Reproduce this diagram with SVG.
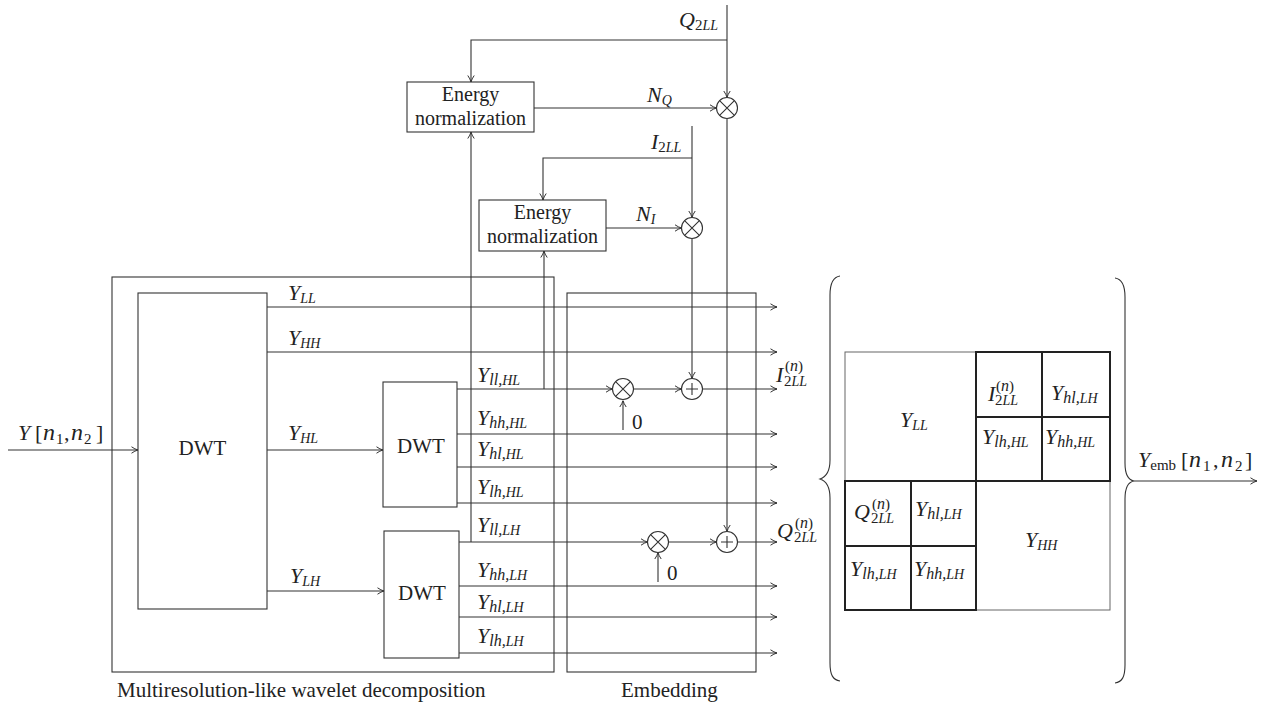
<svg xmlns="http://www.w3.org/2000/svg" width="1262" height="705" viewBox="0 0 1262 705">
<defs>
<marker id="arr" viewBox="0 0 8 8" refX="8" refY="4" markerWidth="8" markerHeight="8" markerUnits="userSpaceOnUse" orient="auto">
<path d="M1.5,0.8 Q5,3.2 8,4 Q5,4.8 1.5,7.2" fill="none" stroke="#333" stroke-width="1"/>
</marker>
</defs>
<style>
.box{fill:none;stroke:#333;stroke-width:1.1}
.ln{fill:none;stroke:#333;stroke-width:1.1}
.ar{fill:none;stroke:#333;stroke-width:1.1;marker-end:url(#arr)}
.op{fill:#fff;stroke:#333;stroke-width:1.1}
.thin{fill:none;stroke:#666;stroke-width:1}
.thick{fill:none;stroke:#222;stroke-width:2}
.t{font-family:"Liberation Serif","DejaVu Serif",serif;font-size:21px;fill:#222}
.e{font-size:20px}
.m{font-style:italic;font-size:22px}
.u{font-style:normal}
.s{font-size:16px}
.c{font-size:14px}
.d{font-size:15px;font-style:normal}
.n{font-size:24px}
.mid{text-anchor:middle}
</style>

<g id="connectors">
<path class="ar" d="M8,450 H138"/>
<path class="ar" d="M267,307 H777"/>
<path class="ar" d="M267,352 H777"/>
<path class="ar" d="M267,450 H383"/>
<path class="ar" d="M267,591 H384"/>
<path class="ar" d="M457,389 H612.5"/>
<path class="ar" d="M633.5,389 H681.5"/>
<path class="ar" d="M702.5,389 H777"/>
<path class="ar" d="M623,430 V400.5"/>
<path class="ar" d="M457,434 H777"/>
<path class="ar" d="M457,467 H777"/>
<path class="ar" d="M457,503 H777"/>
<path class="ar" d="M459,542 H647.5"/>
<path class="ar" d="M668.5,542 H716.5"/>
<path class="ar" d="M737.5,542 H777"/>
<path class="ar" d="M658,582 V552.5"/>
<path class="ar" d="M459,586 H777"/>
<path class="ar" d="M459,617 H777"/>
<path class="ar" d="M459,653 H777"/>
<path class="ar" d="M471,542 V132"/>
<path class="ar" d="M544,389 V251"/>
<path class="ar" d="M727,5 V97.5"/>
<path class="ar" d="M727,40 H471 V82"/>
<path class="ar" d="M534,108 H716.5"/>
<path class="ar" d="M727,118.5 V531.5"/>
<path class="ar" d="M692,126 V217.5"/>
<path class="ar" d="M692,158 H543 V200"/>
<path class="ar" d="M606,228 H681.5"/>
<path class="ar" d="M692,238.5 V378.5"/>
<path class="ar" d="M1134,481 H1257"/>
</g>

<g id="edge-labels">
<text class="t m" x="18" y="440">Y<tspan class="u" x="35">[</tspan><tspan class="n" x="43">n</tspan><tspan class="d" x="56" dy="4">1</tspan><tspan class="u" x="64" dy="-4">,</tspan><tspan class="n" x="71">n</tspan><tspan class="d" x="84" dy="4">2</tspan><tspan class="u" x="96" dy="-4">]</tspan></text>
<text class="t m" x="288" y="300">Y<tspan class="c" dy="3">LL</tspan></text>
<text class="t m" x="288" y="345">Y<tspan class="c" dy="3">HH</tspan></text>
<text class="t m" x="288" y="440">Y<tspan class="c" dy="3">HL</tspan></text>
<text class="t m" x="290" y="583">Y<tspan class="c" dy="3">LH</tspan></text>
<text class="t m" x="477" y="382">Y<tspan class="s" dy="3">ll,</tspan><tspan class="c">HL</tspan></text>
<text class="t m" x="477" y="425">Y<tspan class="s" dy="3">hh,</tspan><tspan class="c">HL</tspan></text>
<text class="t m" x="477" y="456">Y<tspan class="s" dy="3">hl,</tspan><tspan class="c">HL</tspan></text>
<text class="t m" x="477" y="494">Y<tspan class="s" dy="3">lh,</tspan><tspan class="c">HL</tspan></text>
<text class="t m" x="477" y="532">Y<tspan class="s" dy="3">ll,</tspan><tspan class="c">LH</tspan></text>
<text class="t m" x="477" y="577">Y<tspan class="s" dy="3">hh,</tspan><tspan class="c">LH</tspan></text>
<text class="t m" x="477" y="609">Y<tspan class="s" dy="3">hl,</tspan><tspan class="c">LH</tspan></text>
<text class="t m" x="477" y="643">Y<tspan class="s" dy="3">lh,</tspan><tspan class="c">LH</tspan></text>
<text class="t" x="632" y="429">0</text>
<text class="t" x="667" y="580">0</text>
<text class="t m" x="679" y="27">Q<tspan class="d" dy="3">2</tspan><tspan class="c">LL</tspan></text>
<text class="t m" x="651" y="149">I<tspan class="d" dy="3">2</tspan><tspan class="c">LL</tspan></text>
<text class="t m" x="647" y="102">N<tspan class="c" dy="3">Q</tspan></text>
<text class="t m" x="636" y="221">N<tspan class="c" dy="3">I</tspan></text>
<text class="t m" x="776" y="382">I<tspan class="d" x="785" dy="-11">(</tspan><tspan class="s">n</tspan><tspan class="d">)</tspan><tspan class="d" x="784" dy="15">2</tspan><tspan class="c">LL</tspan></text>
<text class="t m" x="777" y="538">Q<tspan class="d" x="795" dy="-10">(</tspan><tspan class="s">n</tspan><tspan class="d">)</tspan><tspan class="d" x="794" dy="14">2</tspan><tspan class="c">LL</tspan></text>
<text class="t m" x="1138" y="467">Y<tspan class="d" dy="3">emb</tspan><tspan class="u" x="1181" dy="-3">[</tspan><tspan class="n" x="1189">n</tspan><tspan class="d" x="1203" dy="4">1</tspan><tspan class="u" x="1213" dy="-4">,</tspan><tspan class="n" x="1221">n</tspan><tspan class="d" x="1235" dy="4">2</tspan><tspan class="u" x="1245" dy="-4">]</tspan></text>
</g>

<g id="multires-box">
<rect class="box" x="112" y="277" width="442" height="395"/>
<text class="t" x="117" y="697">Multiresolution-like wavelet decomposition</text>
</g>

<g id="embedding-box">
<rect class="box" x="567" y="293" width="189" height="379"/>
<text class="t" x="621" y="697">Embedding</text>
</g>

<g id="dwt1">
<rect class="box" x="138" y="293" width="129" height="316"/>
<text class="t mid" x="202.5" y="455">DWT</text>
</g>

<g id="dwt2">
<rect class="box" x="383" y="382" width="74" height="125"/>
<text class="t mid" x="421" y="453">DWT</text>
</g>

<g id="dwt3">
<rect class="box" x="384" y="531" width="75" height="127"/>
<text class="t mid" x="422" y="600">DWT</text>
</g>

<g id="energy-norm-q">
<rect class="box" x="407" y="82" width="127" height="50"/>
<text class="t e mid" x="470.5" y="101">Energy</text>
<text class="t e mid" x="470.5" y="125">normalization</text>
</g>

<g id="energy-norm-i">
<rect class="box" x="479" y="200" width="127" height="51"/>
<text class="t e mid" x="542.5" y="219">Energy</text>
<text class="t e mid" x="542.5" y="243">normalization</text>
</g>

<g id="mul-q">
<circle class="op" cx="727" cy="108" r="10.5"/>
<path class="ln" d="M719.6,100.6 L734.4,115.4 M734.4,100.6 L719.6,115.4"/>
</g>
<g id="mul-i">
<circle class="op" cx="692" cy="228" r="10.5"/>
<path class="ln" d="M684.6,220.6 L699.4,235.4 M699.4,220.6 L684.6,235.4"/>
</g>
<g id="mul-hl">
<circle class="op" cx="623" cy="389" r="10.5"/>
<path class="ln" d="M615.6,381.6 L630.4,396.4 M630.4,381.6 L615.6,396.4"/>
</g>
<g id="add-hl">
<circle class="op" cx="692" cy="389" r="10.5"/>
<path class="ln" d="M686,389 H698 M692,383 V395"/>
</g>
<g id="mul-lh">
<circle class="op" cx="658" cy="542" r="10.5"/>
<path class="ln" d="M650.6,534.6 L665.4,549.4 M665.4,534.6 L650.6,549.4"/>
</g>
<g id="add-lh">
<circle class="op" cx="727" cy="542" r="10.5"/>
<path class="ln" d="M721,542 H733 M727,536 V548"/>
</g>

<g id="matrix">
<path class="ln" d="M840,276 C833,277 830,283 830,295 L830,460 C830,472 826,477 820,479 C826,481 830,486 830,498 L830,663 C830,675 833,680 840,681"/>
<path class="ln" d="M1115,278 C1122,279 1125,285 1125,297 L1125,463 C1125,475 1128,480 1134,481 C1128,482 1125,487 1125,499 L1125,665 C1125,677 1122,682 1115,683"/>
<rect class="thin" x="845" y="352" width="265" height="258"/>
<rect class="thick" x="976" y="352" width="134" height="129"/>
<path class="thick" d="M1042,352 V481 M976,417 H1110"/>
<rect class="thick" x="845" y="481" width="131" height="129"/>
<path class="thick" d="M911,481 V610 M845,546 H976"/>
<text class="t m" x="900" y="427">Y<tspan class="c" dy="3">LL</tspan></text>
<text class="t m" x="988" y="401">I<tspan class="d" x="996" dy="-10">(</tspan><tspan class="s">n</tspan><tspan class="d">)</tspan><tspan class="d" x="995" dy="14">2</tspan><tspan class="c">LL</tspan></text>
<text class="t m" x="1051" y="400">Y<tspan class="s" dy="3">hl,</tspan><tspan class="c">LH</tspan></text>
<text class="t m" x="982" y="444">Y<tspan class="s" dy="3">lh,</tspan><tspan class="c">HL</tspan></text>
<text class="t m" x="1045" y="444">Y<tspan class="s" dy="3">hh,</tspan><tspan class="c">HL</tspan></text>
<text class="t m" x="854" y="519">Q<tspan class="d" x="872" dy="-10">(</tspan><tspan class="s">n</tspan><tspan class="d">)</tspan><tspan class="d" x="871" dy="14">2</tspan><tspan class="c">LL</tspan></text>
<text class="t m" x="915" y="516">Y<tspan class="s" dy="3">hl,</tspan><tspan class="c">LH</tspan></text>
<text class="t m" x="850" y="576">Y<tspan class="s" dy="3">lh,</tspan><tspan class="c">LH</tspan></text>
<text class="t m" x="914" y="576">Y<tspan class="s" dy="3">hh,</tspan><tspan class="c">LH</tspan></text>
<text class="t m" x="1025" y="547">Y<tspan class="c" dy="3">HH</tspan></text>
</g>
</svg>
